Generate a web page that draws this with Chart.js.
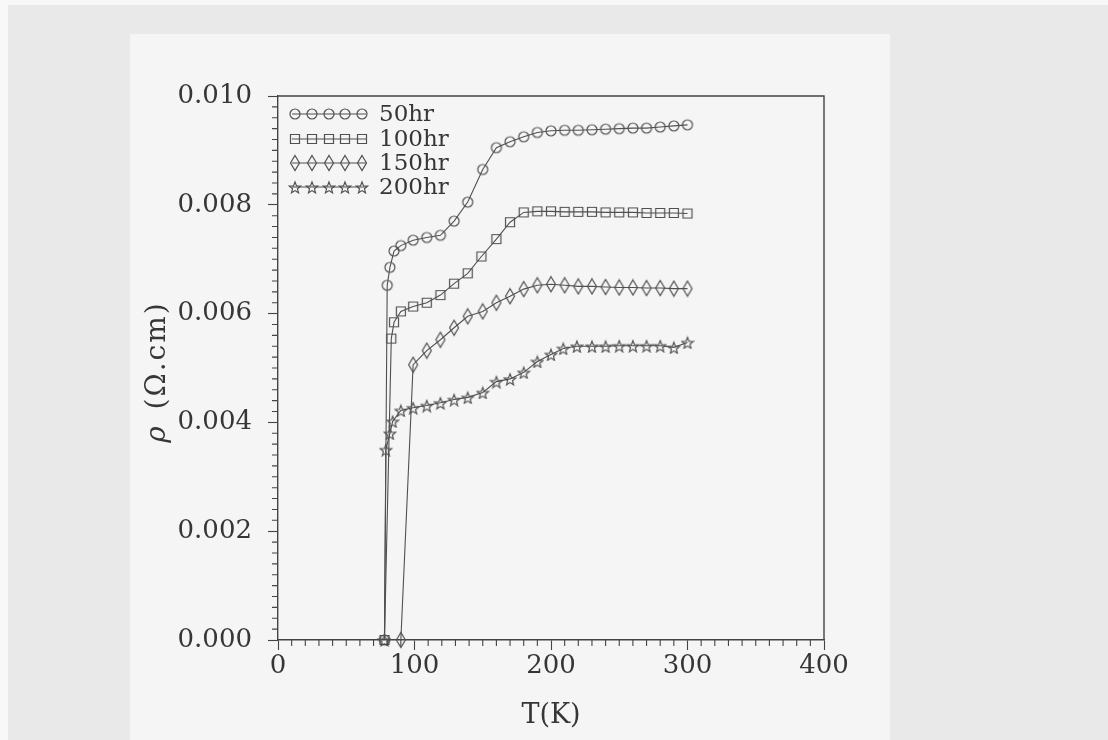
<!DOCTYPE html>
<html>
<head>
<meta charset="utf-8">
<script src="https://cdn.jsdelivr.net/npm/chart.js@4.4.1/dist/chart.umd.min.js"></script>
<style>
  html, body { margin: 0; padding: 0; background: #e6e6e6; }
  #wrap { width: 1108px; height: 740px; }
</style>
</head>
<body>
<div id="wrap"><canvas id="rhoChart" width="1108" height="740"></canvas></div>
<script>
// resistivity vs temperature, one curve per milling time
const seriesNames = ["50hr", "100hr", "150hr", "200hr"];

const temp50 = [78, 80, 82, 85, 90, 99, 109, 119, 129, 139, 150, 160, 170, 180, 190, 200, 210, 220, 230, 240, 250, 260, 270, 280, 290, 300];
const rho50  = [0, 0.00652, 0.00685, 0.00715, 0.00725, 0.00735, 0.00740, 0.00744, 0.00770, 0.00805, 0.00865, 0.00905, 0.00916, 0.00925, 0.00933, 0.00936, 0.00937, 0.00937, 0.00938, 0.00939, 0.00940, 0.00941, 0.00941, 0.00943, 0.00945, 0.00947];

const temp100 = [78, 83, 85, 90, 99, 109, 119, 129, 139, 149, 160, 170, 180, 190, 200, 210, 220, 230, 240, 250, 260, 270, 280, 290, 300];
const rho100  = [0, 0.00554, 0.00584, 0.00604, 0.00613, 0.00620, 0.00634, 0.00655, 0.00674, 0.00705, 0.00737, 0.00768, 0.00786, 0.00788, 0.00788, 0.00787, 0.00787, 0.00787, 0.00786, 0.00786, 0.00786, 0.00785, 0.00785, 0.00785, 0.00784];

const temp150 = [90, 99, 109, 119, 129, 139, 150, 160, 170, 180, 190, 200, 210, 220, 230, 240, 250, 260, 270, 280, 290, 300];
const rho150  = [0, 0.00506, 0.00532, 0.00552, 0.00574, 0.00595, 0.00604, 0.00620, 0.00632, 0.00645, 0.00652, 0.00654, 0.00652, 0.00650, 0.00650, 0.00649, 0.00648, 0.00648, 0.00647, 0.00647, 0.00646, 0.00646];

const temp200 = [78, 79, 82, 84, 90, 99, 109, 119, 129, 139, 150, 160, 170, 180, 190, 200, 209, 219, 230, 240, 250, 260, 270, 280, 290, 300];
const rho200  = [0, 0.00350, 0.00380, 0.00402, 0.00422, 0.00427, 0.00431, 0.00436, 0.00442, 0.00446, 0.00455, 0.00475, 0.00480, 0.00492, 0.00512, 0.00525, 0.00536, 0.00540, 0.00540, 0.00540, 0.00541, 0.00541, 0.00541, 0.00541, 0.00538, 0.00547];

const xTickLabels = ["0", "100", "200", "300", "400"];
const yTickLabels = ["0.000", "0.002", "0.004", "0.006", "0.008", "0.010"];

const inkColor = "#505050";
const textColor = "#363636";
const serif = "'DejaVu Serif', 'Liberation Serif', serif";

// hollow markers drawn once on small canvases
function makeMarker(kind) {
    const c = document.createElement("canvas");
    c.width = 14;
    c.height = kind === "diamond" ? 18 : 14;
    const g = c.getContext("2d");
    const cx = c.width / 2, cy = c.height / 2;
    g.strokeStyle = inkColor;
    g.lineWidth = 1.2;
    g.beginPath();
    if (kind === "circle") {
        g.arc(cx, cy, 5, 0, Math.PI * 2);
    } else if (kind === "square") {
        g.rect(cx - 4.5, cy - 4.5, 9, 9);
    } else if (kind === "diamond") {
        g.moveTo(cx, cy - 7.5);
        g.lineTo(cx + 4.5, cy);
        g.lineTo(cx, cy + 7.5);
        g.lineTo(cx - 4.5, cy);
        g.closePath();
    } else {
        for (let i = 0; i < 10; i++) {
            const r = i % 2 === 0 ? 6 : 2.6;
            const a = -Math.PI / 2 + i * Math.PI / 5;
            const px = cx + r * Math.cos(a), py = cy + 1 + r * Math.sin(a);
            if (i === 0) g.moveTo(px, py); else g.lineTo(px, py);
        }
        g.closePath();
    }
    g.stroke();
    return c;
}

const markers = [makeMarker("circle"), makeMarker("square"), makeMarker("diamond"), makeMarker("star")];

function toPoints(xs, ys) {
    return xs.map((t, i) => ({ x: t, y: ys[i] }));
}

const seriesData = [
    toPoints(temp50, rho50),
    toPoints(temp100, rho100),
    toPoints(temp150, rho150),
    toPoints(temp200, rho200)
];

const datasets = seriesData.map((pts, i) => ({
    label: seriesNames[i],
    data: pts,
    showLine: true,
    tension: 0,
    borderColor: inkColor,
    borderWidth: 1.1,
    pointStyle: markers[i],
    pointRadius: 6,
    clip: false
}));

// paper, frame, minor ticks, axis titles and legend
const paperPlugin = {
    id: "paper",
    beforeDraw(chart) {
        const ctx = chart.ctx;
        ctx.save();
        ctx.fillStyle = "#f8f8f8";
        ctx.fillRect(0, 0, chart.width, chart.height);
        ctx.fillStyle = "#e9e9e9";
        ctx.fillRect(8, 5, chart.width - 8, chart.height - 5);
        ctx.fillStyle = "#f5f5f5";
        ctx.fillRect(130, 34, 760, chart.height - 34);
        ctx.restore();
    },
    afterDraw(chart) {
        const ctx = chart.ctx;
        const area = chart.chartArea;
        const xs = chart.scales.x, ys = chart.scales.y;
        ctx.save();
        ctx.strokeStyle = "#444444";
        ctx.lineWidth = 1.4;
        ctx.beginPath();
        ctx.moveTo(area.left, area.top);
        ctx.lineTo(area.right, area.top);
        ctx.lineTo(area.right, area.bottom);
        ctx.stroke();

        ctx.lineWidth = 1.1;
        ctx.beginPath();
        for (let v = 0; v <= 400; v += 10) {
            if (v % 100 === 0) continue;
            const px = xs.getPixelForValue(v);
            ctx.moveTo(px, area.bottom);
            ctx.lineTo(px, area.bottom + 6);
        }
        for (let k = 0; k <= 50; k++) {
            if (k % 10 === 0) continue;
            const py = ys.getPixelForValue(k * 0.0002);
            ctx.moveTo(area.left - 6, py);
            ctx.lineTo(area.left, py);
        }
        ctx.stroke();

        ctx.fillStyle = textColor;
        ctx.font = "27px " + serif;
        ctx.textAlign = "center";
        ctx.textBaseline = "middle";
        ctx.fillText("T(K)", (area.left + area.right) / 2, 716);

        ctx.save();
        ctx.translate(158, 372);
        ctx.rotate(-Math.PI / 2);
        ctx.textAlign = "left";
        ctx.letterSpacing = "2px";
        const rhoFont = "italic 28px " + serif;
        const restFont = "28px " + serif;
        ctx.font = rhoFont;
        const w1 = ctx.measureText("ρ ").width + 4;
        ctx.font = restFont;
        const w2 = ctx.measureText("(Ω.cm)").width;
        const start = -(w1 + w2) / 2;
        ctx.font = rhoFont;
        ctx.fillText("ρ", start, 0);
        ctx.font = restFont;
        ctx.fillText("(Ω.cm)", start + w1, 0);
        ctx.restore();

        const rowY = [114, 139, 163, 187];
        ctx.font = "23px " + serif;
        ctx.textAlign = "left";
        rowY.forEach((y, i) => {
            ctx.strokeStyle = inkColor;
            ctx.lineWidth = 1.1;
            ctx.beginPath();
            ctx.moveTo(292, y);
            ctx.lineTo(366, y);
            ctx.stroke();
            for (let j = 0; j < 5; j++) {
                const m = markers[i];
                ctx.drawImage(m, Math.round(295 + j * 16.8 - m.width / 2), Math.round(y - m.height / 2));
            }
            ctx.fillStyle = textColor;
            ctx.fillText(seriesNames[i], 379, y + 1);
        });
        ctx.restore();
    }
};

new Chart(document.getElementById("rhoChart"), {
    type: "scatter",
    data: { datasets: datasets },
    options: {
        responsive: false,
        animation: false,
        devicePixelRatio: 1,
        layout: { padding: { top: 96, right: 284, left: 0, bottom: 0 } },
        plugins: {
            legend: { display: false },
            tooltip: { enabled: false }
        },
        scales: {
            x: {
                type: "linear",
                min: 0,
                max: 400,
                ticks: {
                    stepSize: 100,
                    color: textColor,
                    font: { family: serif, size: 26 },
                    padding: 1,
                    maxRotation: 0,
                    callback: (v, i) => xTickLabels[i]
                },
                grid: { drawOnChartArea: false, tickLength: 10, tickColor: "#444444", tickWidth: 1.1 },
                border: { color: "#444444", width: 1.4 },
                afterFit(scale) { scale.height = 100; }
            },
            y: {
                min: 0,
                max: 0.01,
                ticks: {
                    stepSize: 0.002,
                    color: textColor,
                    font: { family: serif, size: 26 },
                    padding: 16,
                    callback: (v, i) => yTickLabels[i]
                },
                grid: { drawOnChartArea: false, tickLength: 10, tickColor: "#444444", tickWidth: 1.1 },
                border: { color: "#444444", width: 1.4 },
                afterFit(scale) { scale.width = 278; }
            }
        }
    },
    plugins: [paperPlugin]
});
</script>
</body>
</html>
